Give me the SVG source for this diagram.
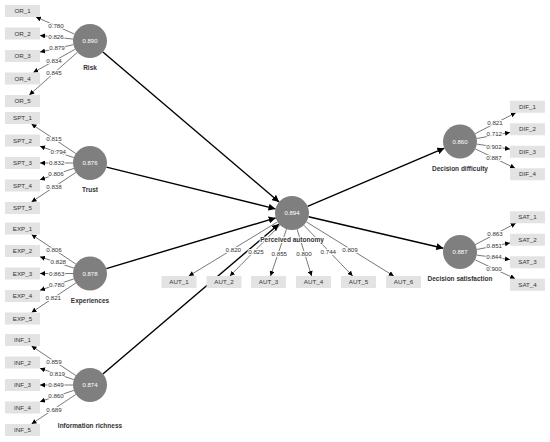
<svg xmlns="http://www.w3.org/2000/svg" width="550" height="442" viewBox="0 0 550 442">
<style>
.bg{fill:#fff}
.m{stroke:#555;stroke-width:0.8;fill:none;marker-end:url(#ah)}
.s{stroke:#000;stroke-width:1.4;fill:none;marker-end:url(#ahb)}
.lv{font-family:"Liberation Sans",Arial,sans-serif;font-size:6.2px;fill:#333;text-anchor:middle;paint-order:stroke;stroke:#fff;stroke-width:2px;stroke-linejoin:round}
.c{fill:#7f7f7f}
.cv{font-family:"Liberation Sans",Arial,sans-serif;font-size:6px;fill:#fff;text-anchor:middle}
.cl{font-family:"Liberation Sans",Arial,sans-serif;font-size:6.5px;font-weight:bold;fill:#333;text-anchor:middle;paint-order:stroke;stroke:#fff;stroke-width:2px;stroke-linejoin:round}
.b{fill:#e3e3e3}
.bt{font-family:"Liberation Sans",Arial,sans-serif;font-size:6.2px;fill:#333;text-anchor:middle}
</style>
<defs>
<marker id="ah" viewBox="0 0 10 10" refX="10" refY="5" markerWidth="5" markerHeight="5" orient="auto" markerUnits="userSpaceOnUse"><path d="M0,0 L10,5 L0,10 z" fill="#000"/></marker>
<marker id="ahb" viewBox="0 0 10 10" refX="10" refY="5" markerWidth="7" markerHeight="7" orient="auto" markerUnits="userSpaceOnUse"><path d="M0,0 L10,5 L0,10 z" fill="#000"/></marker>
</defs>
<rect class="bg" x="0" y="0" width="550" height="442"/>
<g id="connectors">
<!-- Risk -->
<line class="m" x1="74.5" y1="34.1" x2="36" y2="17"/>
<line class="m" x1="73.1" y1="39.1" x2="40" y2="35.4"/>
<line class="m" x1="73.4" y1="44.7" x2="40" y2="52.1"/>
<line class="m" x1="75.1" y1="49.3" x2="33.3" y2="72.5"/>
<line class="m" x1="77.3" y1="52.3" x2="29.3" y2="95"/>
<!-- Trust -->
<line class="m" x1="75.9" y1="153.6" x2="31.5" y2="124"/>
<line class="m" x1="73.9" y1="157.6" x2="40" y2="146.3"/>
<line class="m" x1="73" y1="163" x2="40" y2="163"/>
<line class="m" x1="73.9" y1="168.4" x2="40" y2="179.7"/>
<line class="m" x1="75.9" y1="172.4" x2="31.5" y2="202"/>
<!-- Experiences -->
<line class="m" x1="75.9" y1="264.1" x2="31.5" y2="234.5"/>
<line class="m" x1="73.9" y1="268.1" x2="40" y2="256.8"/>
<line class="m" x1="73" y1="273.5" x2="40" y2="273.5"/>
<line class="m" x1="73.9" y1="278.9" x2="40" y2="290.2"/>
<line class="m" x1="75.9" y1="282.9" x2="31.5" y2="312.5"/>
<!-- Information richness -->
<line class="m" x1="75.9" y1="375.6" x2="31.5" y2="346"/>
<line class="m" x1="73.9" y1="379.6" x2="40" y2="368.3"/>
<line class="m" x1="73" y1="385" x2="40" y2="385"/>
<line class="m" x1="73.9" y1="390.4" x2="40" y2="401.7"/>
<line class="m" x1="75.9" y1="394.4" x2="31.5" y2="424"/>
<!-- Perceived autonomy -->
<line class="m" x1="277.5" y1="221.9" x2="188.8" y2="276"/>
<line class="m" x1="280.1" y1="225.1" x2="229.9" y2="276"/>
<line class="m" x1="286.5" y1="229.1" x2="270.5" y2="276"/>
<line class="m" x1="297.1" y1="229.2" x2="311.6" y2="276"/>
<line class="m" x1="303.8" y1="225.2" x2="352.7" y2="276"/>
<line class="m" x1="306.5" y1="222" x2="393.8" y2="276"/>
<!-- Decision difficulty -->
<line class="m" x1="475.1" y1="133.7" x2="515.8" y2="112.75"/>
<line class="m" x1="476.7" y1="138.5" x2="510" y2="132.4"/>
<line class="m" x1="476.8" y1="144.1" x2="510" y2="149.1"/>
<line class="m" x1="475.3" y1="148.9" x2="515.1" y2="168.25"/>
<!-- Decision satisfaction -->
<line class="m" x1="475.1" y1="244.7" x2="515.8" y2="223.25"/>
<line class="m" x1="476.7" y1="249.5" x2="510" y2="242.9"/>
<line class="m" x1="476.8" y1="255.1" x2="510" y2="259.6"/>
<line class="m" x1="475.3" y1="259.9" x2="515.1" y2="278.75"/>
<!-- structural paths -->
<line class="s" x1="102.9" y1="52" x2="279.1" y2="202"/>
<line class="s" x1="106.5" y1="167.1" x2="275.5" y2="208.9"/>
<line class="s" x1="106.3" y1="268.6" x2="275.7" y2="217.9"/>
<line class="s" x1="102.9" y1="374" x2="279.1" y2="224"/>
<line class="s" x1="307.6" y1="206.3" x2="444.4" y2="148.2"/>
<line class="s" x1="308.6" y1="216.8" x2="443.4" y2="248.2"/>
<!-- loadings -->
<text class="lv" x="56" y="25.5" dy="0.35em">0.780</text>
<text class="lv" x="56" y="36.5" dy="0.35em">0.826</text>
<text class="lv" x="57" y="48.3" dy="0.35em">0.879</text>
<text class="lv" x="54" y="61" dy="0.35em">0.834</text>
<text class="lv" x="54" y="72.7" dy="0.35em">0.845</text>
<text class="lv" x="54" y="139" dy="0.35em">0.815</text>
<text class="lv" x="58.3" y="151.7" dy="0.35em">0.794</text>
<text class="lv" x="56.7" y="162.7" dy="0.35em">0.832</text>
<text class="lv" x="56" y="174" dy="0.35em">0.806</text>
<text class="lv" x="54" y="187.3" dy="0.35em">0.838</text>
<text class="lv" x="54" y="249.5" dy="0.35em">0.806</text>
<text class="lv" x="58.3" y="262.3" dy="0.35em">0.828</text>
<text class="lv" x="56.7" y="273.5" dy="0.35em">0.863</text>
<text class="lv" x="56.7" y="285" dy="0.35em">0.780</text>
<text class="lv" x="53.3" y="297.7" dy="0.35em">0.821</text>
<text class="lv" x="54" y="361.7" dy="0.35em">0.859</text>
<text class="lv" x="57.3" y="374" dy="0.35em">0.819</text>
<text class="lv" x="56" y="385" dy="0.35em">0.849</text>
<text class="lv" x="56" y="396" dy="0.35em">0.860</text>
<text class="lv" x="54" y="410" dy="0.35em">0.689</text>
<text class="lv" x="233.3" y="250" dy="0.35em">0.820</text>
<text class="lv" x="256" y="251.7" dy="0.35em">0.825</text>
<text class="lv" x="279.3" y="254" dy="0.35em">0.855</text>
<text class="lv" x="304" y="254" dy="0.35em">0.800</text>
<text class="lv" x="328.3" y="251.7" dy="0.35em">0.744</text>
<text class="lv" x="350" y="250" dy="0.35em">0.809</text>
<text class="lv" x="495" y="122.7" dy="0.35em">0.821</text>
<text class="lv" x="494.3" y="134.3" dy="0.35em">0.712</text>
<text class="lv" x="494" y="146.7" dy="0.35em">0.902</text>
<text class="lv" x="494" y="158.3" dy="0.35em">0.887</text>
<text class="lv" x="495" y="234" dy="0.35em">0.863</text>
<text class="lv" x="494.3" y="245.7" dy="0.35em">0.851</text>
<text class="lv" x="494" y="257.3" dy="0.35em">0.844</text>
<text class="lv" x="494" y="269.3" dy="0.35em">0.900</text>
</g>
<g id="risk"><circle class="c" cx="90" cy="41" r="17"/><text class="cv" x="90" y="41" dy="0.35em">0.890</text><text class="cl" x="90" y="68" dy="0.35em">Risk</text></g>
<g id="trust"><circle class="c" cx="90" cy="163" r="17"/><text class="cv" x="90" y="163" dy="0.35em">0.876</text><text class="cl" x="90" y="190" dy="0.35em">Trust</text></g>
<g id="experiences"><circle class="c" cx="90" cy="273.5" r="17"/><text class="cv" x="90" y="273.5" dy="0.35em">0.878</text><text class="cl" x="90" y="300.5" dy="0.35em">Experiences</text></g>
<g id="information-richness"><circle class="c" cx="90" cy="385" r="17"/><text class="cv" x="90" y="385" dy="0.35em">0.874</text><text class="cl" x="90" y="426" dy="0.35em">Information richness</text></g>
<g id="perceived-autonomy"><circle class="c" cx="292" cy="213" r="17"/><text class="cv" x="292" y="213" dy="0.35em">0.894</text><text class="cl" x="292" y="240" dy="0.35em">Perceived autonomy</text></g>
<g id="decision-difficulty"><circle class="c" cx="460" cy="141.5" r="17"/><text class="cv" x="460" y="141.5" dy="0.35em">0.860</text><text class="cl" x="460" y="169" dy="0.35em">Decision difficulty</text></g>
<g id="decision-satisfaction"><circle class="c" cx="460" cy="252" r="17"/><text class="cv" x="460" y="252" dy="0.35em">0.887</text><text class="cl" x="460" y="278.5" dy="0.35em">Decision satisfaction</text></g>
<g id="OR_1"><rect class="b" x="5" y="5" width="35" height="12"/><text class="bt" x="22.5" y="11" dy="0.35em">OR_1</text></g>
<g id="OR_2"><rect class="b" x="5" y="27.5" width="35" height="12"/><text class="bt" x="22.5" y="33.5" dy="0.35em">OR_2</text></g>
<g id="OR_3"><rect class="b" x="5" y="50" width="35" height="12"/><text class="bt" x="22.5" y="56" dy="0.35em">OR_3</text></g>
<g id="OR_4"><rect class="b" x="5" y="72.5" width="35" height="12"/><text class="bt" x="22.5" y="78.5" dy="0.35em">OR_4</text></g>
<g id="OR_5"><rect class="b" x="5" y="95" width="35" height="12"/><text class="bt" x="22.5" y="101" dy="0.35em">OR_5</text></g>
<g id="SPT_1"><rect class="b" x="5" y="112" width="35" height="12"/><text class="bt" x="22.5" y="118" dy="0.35em">SPT_1</text></g>
<g id="SPT_2"><rect class="b" x="5" y="134.5" width="35" height="12"/><text class="bt" x="22.5" y="140.5" dy="0.35em">SPT_2</text></g>
<g id="SPT_3"><rect class="b" x="5" y="157" width="35" height="12"/><text class="bt" x="22.5" y="163" dy="0.35em">SPT_3</text></g>
<g id="SPT_4"><rect class="b" x="5" y="179.5" width="35" height="12"/><text class="bt" x="22.5" y="185.5" dy="0.35em">SPT_4</text></g>
<g id="SPT_5"><rect class="b" x="5" y="202" width="35" height="12"/><text class="bt" x="22.5" y="208" dy="0.35em">SPT_5</text></g>
<g id="EXP_1"><rect class="b" x="5" y="222.5" width="35" height="12"/><text class="bt" x="22.5" y="228.5" dy="0.35em">EXP_1</text></g>
<g id="EXP_2"><rect class="b" x="5" y="245" width="35" height="12"/><text class="bt" x="22.5" y="251" dy="0.35em">EXP_2</text></g>
<g id="EXP_3"><rect class="b" x="5" y="267.5" width="35" height="12"/><text class="bt" x="22.5" y="273.5" dy="0.35em">EXP_3</text></g>
<g id="EXP_4"><rect class="b" x="5" y="290" width="35" height="12"/><text class="bt" x="22.5" y="296" dy="0.35em">EXP_4</text></g>
<g id="EXP_5"><rect class="b" x="5" y="312.5" width="35" height="12"/><text class="bt" x="22.5" y="318.5" dy="0.35em">EXP_5</text></g>
<g id="INF_1"><rect class="b" x="5" y="334" width="35" height="12"/><text class="bt" x="22.5" y="340" dy="0.35em">INF_1</text></g>
<g id="INF_2"><rect class="b" x="5" y="356.5" width="35" height="12"/><text class="bt" x="22.5" y="362.5" dy="0.35em">INF_2</text></g>
<g id="INF_3"><rect class="b" x="5" y="379" width="35" height="12"/><text class="bt" x="22.5" y="385" dy="0.35em">INF_3</text></g>
<g id="INF_4"><rect class="b" x="5" y="401.5" width="35" height="12"/><text class="bt" x="22.5" y="407.5" dy="0.35em">INF_4</text></g>
<g id="INF_5"><rect class="b" x="5" y="424" width="35" height="12"/><text class="bt" x="22.5" y="430" dy="0.35em">INF_5</text></g>
<g id="AUT_1"><rect class="b" x="161.5" y="276" width="35" height="12"/><text class="bt" x="179" y="282" dy="0.35em">AUT_1</text></g>
<g id="AUT_2"><rect class="b" x="206.5" y="276" width="35" height="12"/><text class="bt" x="224" y="282" dy="0.35em">AUT_2</text></g>
<g id="AUT_3"><rect class="b" x="251" y="276" width="35" height="12"/><text class="bt" x="268.5" y="282" dy="0.35em">AUT_3</text></g>
<g id="AUT_4"><rect class="b" x="296" y="276" width="35" height="12"/><text class="bt" x="313.5" y="282" dy="0.35em">AUT_4</text></g>
<g id="AUT_5"><rect class="b" x="341" y="276" width="35" height="12"/><text class="bt" x="358.5" y="282" dy="0.35em">AUT_5</text></g>
<g id="AUT_6"><rect class="b" x="386" y="276" width="35" height="12"/><text class="bt" x="403.5" y="282" dy="0.35em">AUT_6</text></g>
<g id="DIF_1"><rect class="b" x="510" y="100.75" width="35" height="12"/><text class="bt" x="527.5" y="106.75" dy="0.35em">DIF_1</text></g>
<g id="DIF_2"><rect class="b" x="510" y="123.25" width="35" height="12"/><text class="bt" x="527.5" y="129.25" dy="0.35em">DIF_2</text></g>
<g id="DIF_3"><rect class="b" x="510" y="145.75" width="35" height="12"/><text class="bt" x="527.5" y="151.75" dy="0.35em">DIF_3</text></g>
<g id="DIF_4"><rect class="b" x="510" y="168.25" width="35" height="12"/><text class="bt" x="527.5" y="174.25" dy="0.35em">DIF_4</text></g>
<g id="SAT_1"><rect class="b" x="510" y="211.25" width="35" height="12"/><text class="bt" x="527.5" y="217.25" dy="0.35em">SAT_1</text></g>
<g id="SAT_2"><rect class="b" x="510" y="233.75" width="35" height="12"/><text class="bt" x="527.5" y="239.75" dy="0.35em">SAT_2</text></g>
<g id="SAT_3"><rect class="b" x="510" y="256.25" width="35" height="12"/><text class="bt" x="527.5" y="262.25" dy="0.35em">SAT_3</text></g>
<g id="SAT_4"><rect class="b" x="510" y="278.75" width="35" height="12"/><text class="bt" x="527.5" y="284.75" dy="0.35em">SAT_4</text></g>
</svg>
